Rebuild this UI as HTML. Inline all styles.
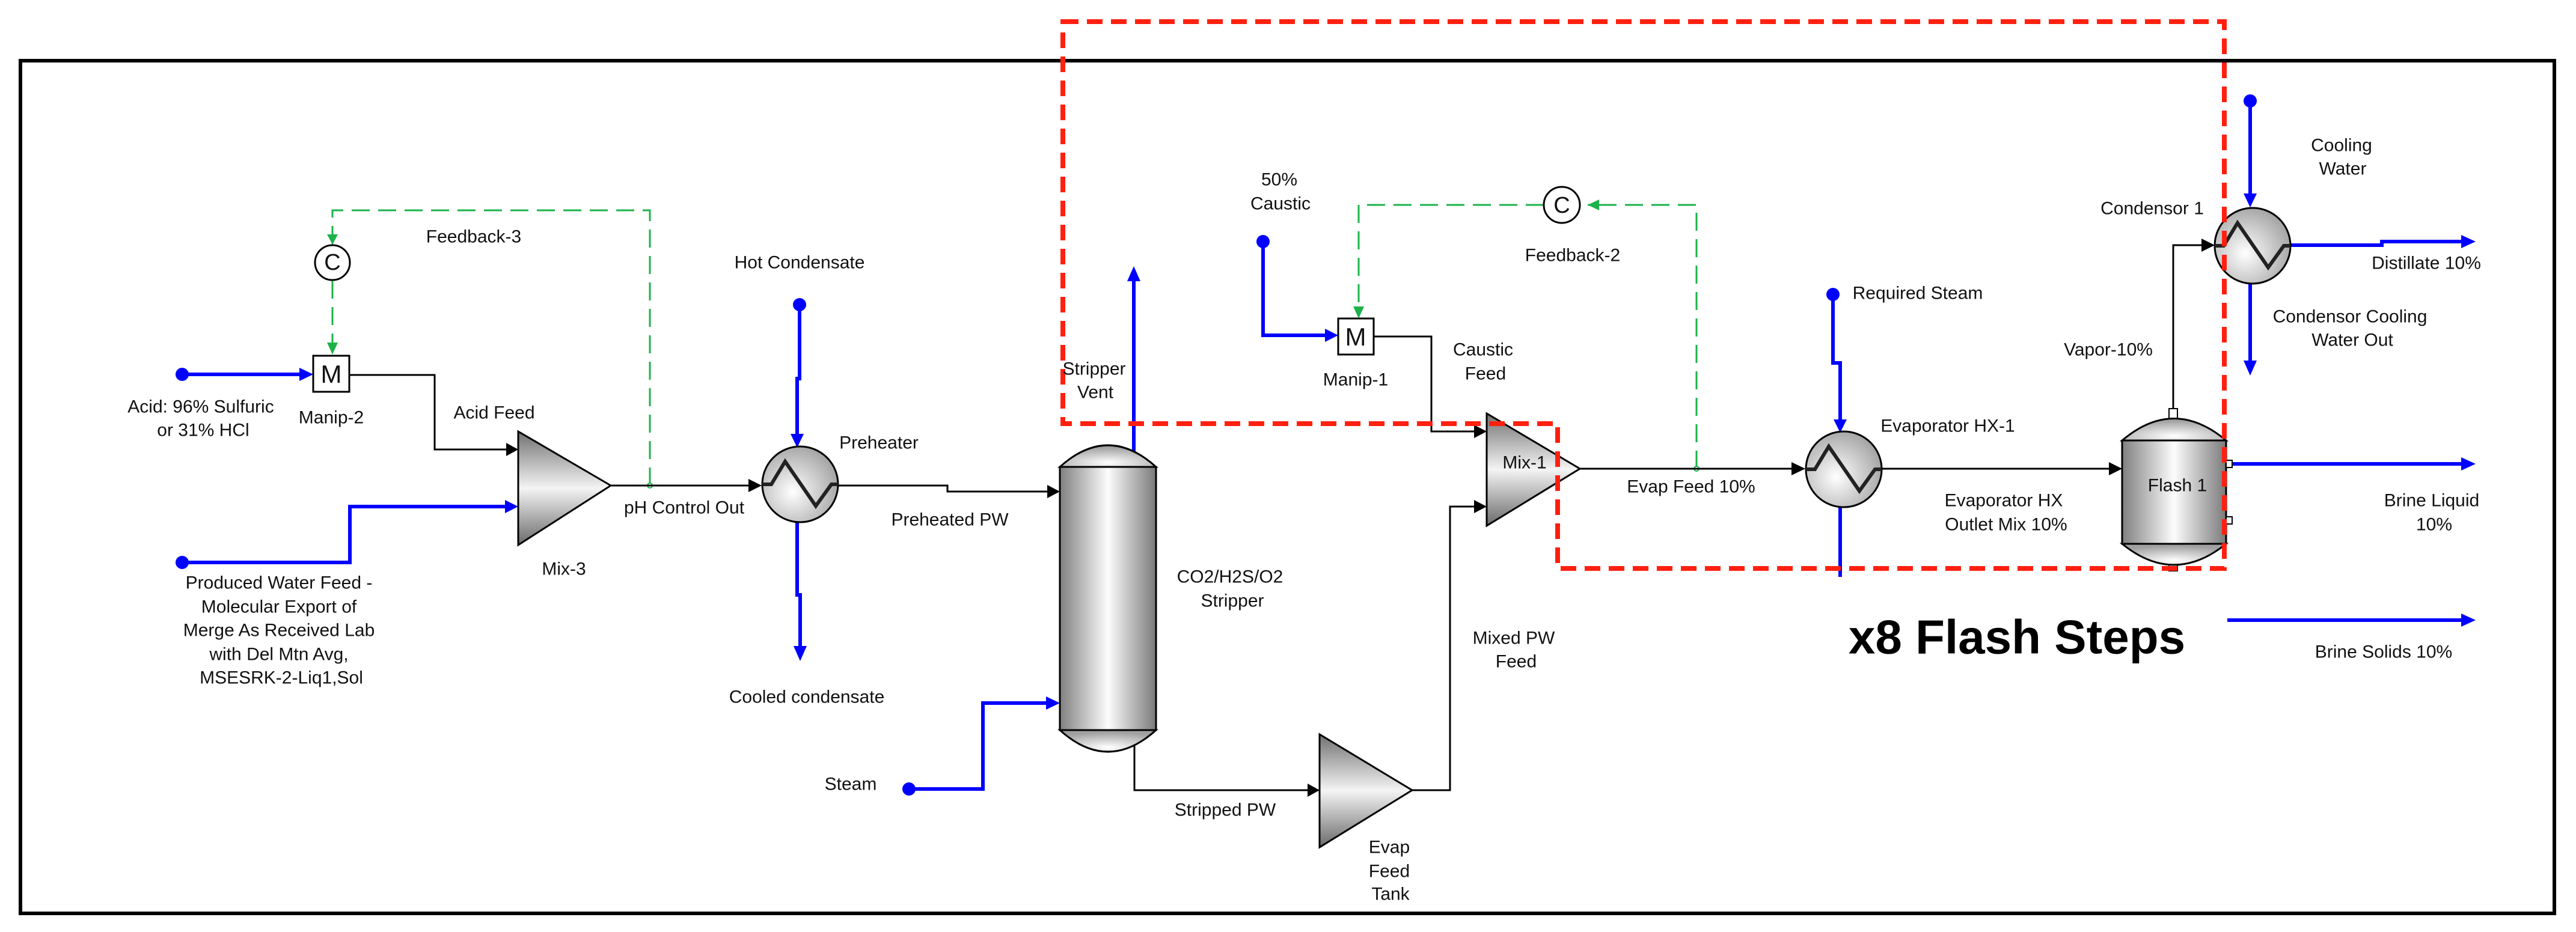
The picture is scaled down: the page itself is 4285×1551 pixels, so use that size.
<!DOCTYPE html>
<html><head><meta charset="utf-8"><style>
html,body{margin:0;padding:0;background:#fff}
svg{display:block}
text{font-family:"Liberation Sans",sans-serif;font-size:30px;fill:#111}
</style></head><body>
<svg width="4285" height="1551" viewBox="0 0 4285 1551" xmlns="http://www.w3.org/2000/svg">
<defs>
<linearGradient id="gv" x1="0" y1="0" x2="0" y2="1">
<stop offset="0" stop-color="#707070"/><stop offset="0.5" stop-color="#f4f4f4"/><stop offset="1" stop-color="#6a6a6a"/></linearGradient>
<linearGradient id="gh" x1="0" y1="0" x2="1" y2="0">
<stop offset="0" stop-color="#808080"/><stop offset="0.5" stop-color="#fcfcfc"/><stop offset="1" stop-color="#7a7a7a"/></linearGradient>
<radialGradient id="gr" cx="0.4" cy="0.6" r="0.7">
<stop offset="0" stop-color="#ffffff"/><stop offset="1" stop-color="#9a9a9a"/></radialGradient>
<radialGradient id="gc" cx="0.5" cy="0.8" r="0.7">
<stop offset="0" stop-color="#ffffff"/><stop offset="1" stop-color="#a0a0a0"/></radialGradient>
<marker id="ab" markerWidth="10" markerHeight="10" refX="9" refY="5" orient="auto" markerUnits="userSpaceOnUse" viewBox="0 0 10 10"><path d="M0,0 L10,5 L0,10z" fill="#000"/></marker>
</defs>

<!-- frame -->
<rect x="34" y="101" width="4215" height="1419" fill="none" stroke="#000" stroke-width="6"/>

<!-- green feedback-3 -->
<g stroke="#1cb24a" stroke-width="3" fill="none" stroke-dasharray="30,14">
<path d="M1081,808 V350 H553 V407"/>
<path d="M553,467 V580"/>
<path d="M2822,780 V341 H2641"/>
<path d="M2568,341 H2260 V518"/>
</g>
<g fill="#1cb24a">
<path d="M544,390 L562,390 L553,407z"/>
<path d="M544,570 L562,570 L553,590z"/>
<path d="M2660,332 L2660,350 L2641,341z"/>
<path d="M2251,510 L2269,510 L2260,530z"/>
</g>
<circle cx="1081" cy="808" r="4" fill="#fff" stroke="#1cb24a" stroke-width="2"/>
<circle cx="2822" cy="780" r="4" fill="#fff" stroke="#1cb24a" stroke-width="2"/>
<circle cx="553" cy="437" r="29" fill="#fff" stroke="#000" stroke-width="3"/>
<text x="553" y="449" text-anchor="middle" style="font-size:38px">C</text>
<circle cx="2598" cy="341" r="30" fill="#fff" stroke="#000" stroke-width="3"/>
<text x="2598" y="354" text-anchor="middle" style="font-size:38px">C</text>

<!-- black lines -->
<g stroke="#000" stroke-width="3" fill="none">
<path d="M581,624 H723 V748 H842"/>
<path d="M1016,808 H1245"/>
<path d="M1395,808 H1576 V818 H1742"/>
<path d="M1887,1240 V1315 H2175"/>
<path d="M2349,1315 H2412 V843 H2452"/>
<path d="M2285,560 H2381 V718 H2452"/>
<path d="M2628,780 H2980"/>
<path d="M3130,780 H3510"/>
<path d="M3615,680 V408 H3665"/>
</g>
<g fill="#000">
<path d="M842,737 L862,748 L842,759z"/>
<path d="M1245,797 L1267,808 L1245,819z"/>
<path d="M1742,807 L1763,818 L1742,829z"/>
<path d="M2175,1304 L2195,1315 L2175,1326z"/>
<path d="M2452,832 L2473,843 L2452,854z"/>
<path d="M2452,707 L2473,718 L2452,729z"/>
<path d="M2980,769 L3003,780 L2980,791z"/>
<path d="M3508,769 L3530,780 L3508,791z"/>
<path d="M3662,397 L3684,408 L3662,419z"/>
</g>

<!-- blue lines -->
<g stroke="#0000ff" stroke-width="6" fill="none">
<path d="M303,623 H500"/>
<path d="M303,936 H582 V843 H842"/>
<path d="M1330,507 V630 H1326 V725"/>
<path d="M1326,868 V990 H1331 V1078"/>
<path d="M1512,1313 H1635 V1170 H1742"/>
<path d="M1886,760 V465"/>
<path d="M2101,402 V558 H2206"/>
<path d="M3049,490 V604 H3061 V700"/>
<path d="M3061,842 V960"/>
<path d="M3743,168 V325"/>
<path d="M3743,470 V602"/>
<path d="M3811,408 H3962 V402 H4096"/>
<path d="M3708,772 H4096"/>
<path d="M3705,1032 H4096"/>
</g>
<g fill="#0000ff">
<circle cx="303" cy="623" r="11"/><circle cx="303" cy="936" r="11"/>
<circle cx="1330" cy="507" r="11"/><circle cx="1512" cy="1313" r="11"/>
<circle cx="2101" cy="402" r="11"/><circle cx="3049" cy="490" r="11"/>
<circle cx="3743" cy="168" r="11"/>
<path d="M498,612 L521,623 L498,634z"/>
<path d="M840,832 L862,843 L840,854z"/>
<path d="M1315,722 L1337,722 L1326,745z"/>
<path d="M1320,1075 L1342,1075 L1331,1100z"/>
<path d="M1740,1159 L1763,1170 L1740,1181z"/>
<path d="M1875,468 L1897,468 L1886,443z"/>
<path d="M2204,547 L2226,558 L2204,569z"/>
<path d="M3050,698 L3072,698 L3061,720z"/>
<path d="M3732,322 L3754,322 L3743,345z"/>
<path d="M3732,600 L3754,600 L3743,625z"/>
<path d="M4094,391 L4118,402 L4094,413z"/>
<path d="M4094,761 L4118,772 L4094,783z"/>
<path d="M4094,1021 L4118,1032 L4094,1043z"/>
</g>

<!-- M boxes -->
<rect x="521" y="592" width="60" height="60" fill="#fff" stroke="#000" stroke-width="3"/>
<text x="551" y="637" text-anchor="middle" style="font-size:42px">M</text>
<rect x="2226" y="530" width="59" height="60" fill="#fff" stroke="#000" stroke-width="3"/>
<text x="2255" y="575" text-anchor="middle" style="font-size:42px">M</text>

<!-- mixers -->
<path d="M862,718 L1016,808 L862,907z" fill="url(#gv)" stroke="#000" stroke-width="3"/>
<path d="M2473,688 L2628,780 L2473,875z" fill="url(#gv)" stroke="#000" stroke-width="3"/>
<path d="M2195,1222 L2349,1315 L2195,1410z" fill="url(#gv)" stroke="#000" stroke-width="3"/>

<!-- heat exchangers -->
<g stroke="#000" stroke-width="3">
<circle cx="1331" cy="806" r="63" fill="url(#gr)"/>
<circle cx="3067" cy="781" r="63" fill="url(#gr)"/>
<circle cx="3747" cy="409" r="63" fill="url(#gr)"/>
</g>
<g stroke="#222" stroke-width="6" fill="none">
<path d="M1268,806 H1283 L1306,768 L1357,842 L1383,806 H1394"/>
<path d="M3004,781 H3019 L3042,743 L3093,817 L3119,781 H3130"/>
<path d="M3684,409 H3699 L3722,371 L3773,445 L3799,409 H3810"/>
</g>

<!-- stripper -->
<path d="M1763,777 Q1843,705 1923,777z" fill="url(#gc)" stroke="#000" stroke-width="3"/>
<path d="M1763,1215 Q1843,1287 1923,1215z" fill="url(#gc)" stroke="#000" stroke-width="3"/>
<rect x="1763" y="777" width="160" height="438" fill="url(#gh)" stroke="#000" stroke-width="3"/>

<!-- flash -->
<rect x="3608" y="680" width="14" height="18" fill="#fff" stroke="#000" stroke-width="2"/>
<rect x="3608" y="936" width="14" height="14" fill="#fff" stroke="#000" stroke-width="2"/>
<path d="M3530,733 Q3616,660 3703,733z" fill="url(#gc)" stroke="#000" stroke-width="3"/>
<path d="M3530,905 Q3616,975 3703,905z" fill="url(#gc)" stroke="#000" stroke-width="3"/>
<rect x="3530" y="733" width="173" height="172" fill="url(#gh)" stroke="#000" stroke-width="3"/>
<rect x="3703" y="766" width="10" height="12" fill="#fff" stroke="#000" stroke-width="2"/>
<rect x="3703" y="860" width="10" height="12" fill="#fff" stroke="#000" stroke-width="2"/>

<!-- red dashed box -->
<path d="M1768,36 H3700 V946 H2591 V705 H1768z" fill="none" stroke="#ff2010" stroke-width="8" stroke-dasharray="26,14"/>

<!-- labels -->
<g text-anchor="middle" dominant-baseline="central">
<text x="788" y="394">Feedback-3</text>
<text x="334" y="677">Acid: 96% Sulfuric</text>
<text x="338" y="716">or 31% HCl</text>
<text x="551" y="695">Manip-2</text>
<text x="822" y="687">Acid Feed</text>
<text x="464" y="970">Produced Water Feed -</text>
<text x="464" y="1010">Molecular Export of</text>
<text x="464" y="1049">Merge As Received Lab</text>
<text x="464" y="1089">with Del Mtn Avg,</text>
<text x="468" y="1128">MSESRK-2-Liq1,Sol</text>
<text x="938" y="947">Mix-3</text>
<text x="1138" y="845">pH Control Out</text>
<text x="1330" y="437">Hot Condensate</text>
<text x="1462" y="737">Preheater</text>
<text x="1342" y="1160">Cooled condensate</text>
<text x="1580" y="865">Preheated PW</text>
<text x="1415" y="1305">Steam</text>
<text x="1820" y="614">Stripper</text>
<text x="1822" y="653">Vent</text>
<text x="2046" y="960">CO2/H2S/O2</text>
<text x="2050" y="1000">Stripper</text>
<text x="2038" y="1348">Stripped PW</text>
<text x="2311" y="1410">Evap</text>
<text x="2311" y="1450">Feed</text>
<text x="2313" y="1488">Tank</text>
<text x="2518" y="1062">Mixed PW</text>
<text x="2522" y="1101">Feed</text>
<text x="2536" y="770">Mix-1</text>
<text x="2128" y="299">50%</text>
<text x="2130" y="339">Caustic</text>
<text x="2255" y="632">Manip-1</text>
<text x="2467" y="582">Caustic</text>
<text x="2471" y="622">Feed</text>
<text x="2616" y="425">Feedback-2</text>
<text x="2813" y="810">Evap Feed 10%</text>
<text x="3190" y="488">Required Steam</text>
<text x="3240" y="709">Evaporator HX-1</text>
<text x="3333" y="833">Evaporator HX</text>
<text x="3337" y="873">Outlet Mix 10%</text>
<text x="3622" y="808">Flash 1</text>
<text x="3507" y="582">Vapor-10%</text>
<text x="3580" y="347">Condensor 1</text>
<text x="3895" y="242">Cooling</text>
<text x="3897" y="281">Water</text>
<text x="4036" y="438">Distillate 10%</text>
<text x="3909" y="527">Condensor Cooling</text>
<text x="3913" y="566">Water Out</text>
<text x="4045" y="833">Brine Liquid</text>
<text x="4049" y="873">10%</text>
<text x="3965" y="1085">Brine Solids 10%</text>
<text x="3355" y="1060" style="font-size:80px;font-weight:bold;fill:#000">x8 Flash Steps</text>
</g>
</svg>
</body></html>
